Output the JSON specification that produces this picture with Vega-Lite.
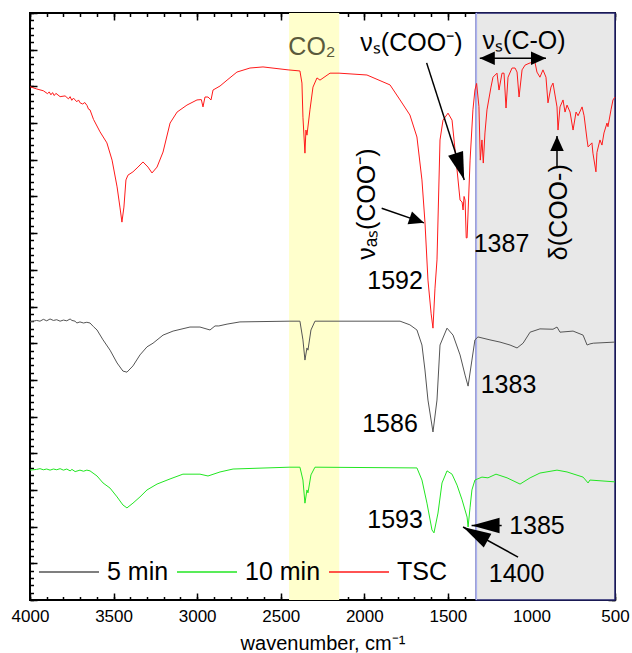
{
"$schema":"https://vega.github.io/schema/vega-lite/v6.json",
"width":585,"height":587,
"autosize":{"type":"none"},
"padding":{"left":30,"top":13,"right":17,"bottom":53},
"config":{"font":"Liberation Sans","view":{"stroke":"#000000","strokeWidth":2},
 "axis":{"domain":false,"grid":false,"tickColor":"#000000","tickWidth":1.5,"zindex":1,"labelColor":"#000000","titleColor":"#000000"}},
"datasets":{
"tsc":[{"w":4000,"t":13.99},{"w":3960,"t":13.93},{"w":3920,"t":13.88},{"w":3895,"t":13.80},{"w":3885,"t":13.85},{"w":3875,"t":13.77},{"w":3865,"t":13.83},{"w":3855,"t":13.75},{"w":3845,"t":13.81},{"w":3820,"t":13.72},{"w":3790,"t":13.74},{"w":3770,"t":13.66},{"w":3760,"t":13.72},{"w":3750,"t":13.62},{"w":3740,"t":13.68},{"w":3720,"t":13.58},{"w":3710,"t":13.63},{"w":3700,"t":13.55},{"w":3685,"t":13.52},{"w":3672,"t":13.56},{"w":3659,"t":13.48},{"w":3650,"t":13.38},{"w":3641,"t":13.36},{"w":3620,"t":13.10},{"w":3581,"t":12.76},{"w":3540,"t":12.46},{"w":3509,"t":11.99},{"w":3479,"t":11.26},{"w":3462,"t":10.71},{"w":3450,"t":10.30},{"w":3438,"t":10.71},{"w":3426,"t":11.45},{"w":3414,"t":11.58},{"w":3384,"t":11.67},{"w":3354,"t":11.80},{"w":3324,"t":11.94},{"w":3294,"t":11.80},{"w":3270,"t":11.64},{"w":3240,"t":11.80},{"w":3204,"t":12.21},{"w":3162,"t":13.00},{"w":3120,"t":13.30},{"w":3061,"t":13.49},{"w":3001,"t":13.63},{"w":2975,"t":13.64},{"w":2965,"t":13.44},{"w":2953,"t":13.71},{"w":2935,"t":13.71},{"w":2917,"t":13.63},{"w":2905,"t":13.90},{"w":2863,"t":14.01},{"w":2821,"t":14.17},{"w":2762,"t":14.39},{"w":2684,"t":14.50},{"w":2606,"t":14.53},{"w":2456,"t":14.45},{"w":2385,"t":14.42},{"w":2373,"t":14.09},{"w":2367,"t":13.16},{"w":2355,"t":12.18},{"w":2349,"t":12.81},{"w":2343,"t":12.67},{"w":2325,"t":13.36},{"w":2307,"t":13.98},{"w":2283,"t":14.23},{"w":2265,"t":14.17},{"w":2205,"t":14.36},{"w":2151,"t":14.36},{"w":1984,"t":14.31},{"w":1846,"t":14.04},{"w":1786,"t":13.63},{"w":1727,"t":13.22},{"w":1685,"t":12.62},{"w":1655,"t":11.45},{"w":1637,"t":10.30},{"w":1619,"t":8.72},{"w":1600,"t":7.80},{"w":1589,"t":7.41},{"w":1577,"t":8.50},{"w":1565,"t":9.27},{"w":1547,"t":12.54},{"w":1529,"t":13.08},{"w":1499,"t":13.27},{"w":1475,"t":13.08},{"w":1445,"t":11.72},{"w":1427,"t":10.90},{"w":1415,"t":10.85},{"w":1409,"t":10.63},{"w":1403,"t":11.00},{"w":1397,"t":10.90},{"w":1390,"t":9.87},{"w":1385,"t":9.87},{"w":1367,"t":11.99},{"w":1350,"t":13.36},{"w":1338,"t":13.90},{"w":1328,"t":14.08},{"w":1314,"t":13.45},{"w":1306,"t":11.99},{"w":1296,"t":12.54},{"w":1288,"t":11.91},{"w":1278,"t":12.73},{"w":1266,"t":13.36},{"w":1242,"t":13.98},{"w":1230,"t":14.25},{"w":1206,"t":14.36},{"w":1194,"t":13.90},{"w":1176,"t":14.36},{"w":1164,"t":14.36},{"w":1152,"t":13.41},{"w":1140,"t":14.25},{"w":1116,"t":14.50},{"w":1098,"t":14.50},{"w":1086,"t":14.39},{"w":1074,"t":13.71},{"w":1056,"t":14.45},{"w":1038,"t":14.58},{"w":1008,"t":14.64},{"w":979,"t":14.66},{"w":967,"t":14.39},{"w":949,"t":14.25},{"w":931,"t":14.45},{"w":913,"t":14.25},{"w":901,"t":13.55},{"w":883,"t":13.98},{"w":871,"t":14.09},{"w":847,"t":13.44},{"w":841,"t":12.81},{"w":829,"t":13.44},{"w":811,"t":13.63},{"w":799,"t":13.30},{"w":787,"t":13.49},{"w":769,"t":13.30},{"w":751,"t":12.81},{"w":733,"t":13.30},{"w":721,"t":13.20},{"w":697,"t":13.44},{"w":685,"t":13.20},{"w":667,"t":12.54},{"w":661,"t":12.35},{"w":638,"t":12.46},{"w":632,"t":12.18},{"w":614,"t":11.67},{"w":608,"t":12.20},{"w":590,"t":12.54},{"w":578,"t":12.40},{"w":566,"t":12.73},{"w":548,"t":13.00},{"w":542,"t":12.90},{"w":524,"t":13.36},{"w":512,"t":13.63},{"w":500,"t":13.71}],
"m5":[{"w":4000,"t":7.58},{"w":3960,"t":7.62},{"w":3940,"t":7.60},{"w":3920,"t":7.65},{"w":3900,"t":7.61},{"w":3880,"t":7.66},{"w":3860,"t":7.62},{"w":3840,"t":7.64},{"w":3820,"t":7.60},{"w":3800,"t":7.63},{"w":3780,"t":7.61},{"w":3760,"t":7.66},{"w":3749,"t":7.62},{"w":3730,"t":7.60},{"w":3720,"t":7.55},{"w":3701,"t":7.58},{"w":3680,"t":7.55},{"w":3660,"t":7.57},{"w":3641,"t":7.55},{"w":3620,"t":7.45},{"w":3599,"t":7.36},{"w":3563,"t":7.09},{"w":3521,"t":6.81},{"w":3479,"t":6.46},{"w":3444,"t":6.24},{"w":3420,"t":6.21},{"w":3384,"t":6.38},{"w":3342,"t":6.68},{"w":3300,"t":6.90},{"w":3264,"t":7.00},{"w":3204,"t":7.22},{"w":3144,"t":7.33},{"w":3043,"t":7.44},{"w":2983,"t":7.44},{"w":2923,"t":7.36},{"w":2893,"t":7.47},{"w":2870,"t":7.47},{"w":2821,"t":7.52},{"w":2744,"t":7.58},{"w":2450,"t":7.60},{"w":2385,"t":7.60},{"w":2367,"t":7.09},{"w":2355,"t":6.54},{"w":2343,"t":6.87},{"w":2337,"t":6.81},{"w":2319,"t":7.36},{"w":2295,"t":7.60},{"w":2283,"t":7.60},{"w":1786,"t":7.60},{"w":1727,"t":7.50},{"w":1685,"t":7.36},{"w":1655,"t":6.95},{"w":1637,"t":6.27},{"w":1619,"t":5.45},{"w":1589,"t":4.58},{"w":1565,"t":5.45},{"w":1547,"t":6.95},{"w":1505,"t":7.41},{"w":1469,"t":7.22},{"w":1427,"t":6.68},{"w":1397,"t":6.13},{"w":1379,"t":5.83},{"w":1356,"t":6.54},{"w":1338,"t":7.09},{"w":1320,"t":7.17},{"w":1248,"t":7.09},{"w":1188,"t":7.03},{"w":1128,"t":6.95},{"w":1086,"t":6.87},{"w":1050,"t":7.00},{"w":1008,"t":7.30},{"w":949,"t":7.39},{"w":871,"t":7.38},{"w":847,"t":7.44},{"w":829,"t":7.30},{"w":751,"t":7.33},{"w":691,"t":7.22},{"w":667,"t":6.95},{"w":650,"t":6.98},{"w":630,"t":7.00},{"w":500,"t":7.03}],
"m10":[{"w":4000,"t":3.54},{"w":3960,"t":3.56},{"w":3940,"t":3.58},{"w":3920,"t":3.55},{"w":3900,"t":3.57},{"w":3880,"t":3.54},{"w":3860,"t":3.57},{"w":3840,"t":3.55},{"w":3820,"t":3.58},{"w":3800,"t":3.54},{"w":3780,"t":3.57},{"w":3760,"t":3.52},{"w":3749,"t":3.56},{"w":3730,"t":3.50},{"w":3701,"t":3.54},{"w":3680,"t":3.51},{"w":3660,"t":3.54},{"w":3641,"t":3.52},{"w":3599,"t":3.38},{"w":3563,"t":3.19},{"w":3521,"t":3.05},{"w":3479,"t":2.81},{"w":3444,"t":2.59},{"w":3420,"t":2.51},{"w":3384,"t":2.64},{"w":3342,"t":2.81},{"w":3300,"t":3.00},{"w":3240,"t":3.16},{"w":3162,"t":3.30},{"w":3085,"t":3.43},{"w":2983,"t":3.43},{"w":2935,"t":3.38},{"w":2863,"t":3.49},{"w":2785,"t":3.57},{"w":2450,"t":3.62},{"w":2385,"t":3.62},{"w":2367,"t":3.27},{"w":2355,"t":2.64},{"w":2343,"t":3.00},{"w":2337,"t":2.92},{"w":2319,"t":3.41},{"w":2295,"t":3.62},{"w":2283,"t":3.62},{"w":1685,"t":3.60},{"w":1655,"t":3.27},{"w":1625,"t":2.64},{"w":1595,"t":1.91},{"w":1583,"t":1.83},{"w":1559,"t":2.37},{"w":1535,"t":3.19},{"w":1505,"t":3.52},{"w":1475,"t":3.43},{"w":1445,"t":3.13},{"w":1415,"t":2.73},{"w":1385,"t":2.26},{"w":1379,"t":1.99},{"w":1367,"t":2.53},{"w":1356,"t":3.00},{"w":1338,"t":3.27},{"w":1296,"t":3.35},{"w":1260,"t":3.33},{"w":1212,"t":3.43},{"w":1146,"t":3.33},{"w":1068,"t":3.16},{"w":1008,"t":3.33},{"w":949,"t":3.46},{"w":847,"t":3.54},{"w":787,"t":3.49},{"w":691,"t":3.35},{"w":661,"t":3.19},{"w":650,"t":3.27},{"w":500,"t":3.22}],
"labels":[{"w":1718,"t":15.19,"txt":"νₛ(COO⁻)"},{"w":1044,"t":15.24,"txt":"νₛ(C-O)"},{"w":1816,"t":8.69,"txt":"1592"},{"w":1179,"t":9.70,"txt":"1387"},{"w":1137,"t":5.85,"txt":"1383"},{"w":1846,"t":4.80,"txt":"1586"},{"w":1816,"t":2.17,"txt":"1593"},{"w":967,"t":2.03,"txt":"1385"},{"w":1089,"t":0.71,"txt":"1400"}],
"vlabels":[{"w":1984,"t":10.79,"txt":"νₐₛ(COO⁻)"},{"w":835,"t":10.57,"txt":"δ(COO-)"}],
"shafts":[{"w1":1627,"t1":14.64,"w2":1402,"t2":11.45},{"w1":1896,"t1":10.68,"w2":1643,"t2":10.28},{"w1":847,"t1":11.77,"w2":847,"t2":12.65},{"w1":1309,"t1":14.77,"w2":913,"t2":14.77},{"w1":1178,"t1":2.03,"w2":1358,"t2":2.03},{"w1":1080,"t1":1.17,"w2":1409,"t2":1.99}],
"heads":[{"w":1402,"t":11.45,"ang":162,"k":"big"},{"w":1643,"t":10.28,"ang":109,"k":"small"},{"w":847,"t":12.65,"ang":0,"k":"small"},{"w":1309,"t":14.77,"ang":270,"k":"small"},{"w":913,"t":14.77,"ang":90,"k":"small"},{"w":1358,"t":2.03,"ang":270,"k":"big"},{"w":1409,"t":1.99,"ang":299,"k":"big"}],
"dummy":[{"w":4000,"t":0}]
},
"layer":[
{"data":{"values":[{"a":2450,"b":2150}]},"mark":{"type":"rect","color":"#ffffcc"},
 "encoding":{"x":{"field":"a","type":"quantitative","scale":{"domain":[500,4000],"reverse":true,"nice":false,"zero":false},"axis":null},"x2":{"field":"b"},
 "y":{"datum":0,"type":"quantitative","scale":{"domain":[0,16],"nice":false,"zero":false},"axis":null},"y2":{"datum":16}}},
{"data":{"values":[{"a":1330,"b":500}]},"mark":{"type":"rect","fill":"#e8e8e8","stroke":"#22226e","strokeWidth":1.5},
 "encoding":{"x":{"field":"a","type":"quantitative","scale":{"domain":[500,4000],"reverse":true,"nice":false,"zero":false},"axis":null},"x2":{"field":"b"},
 "y":{"datum":0,"type":"quantitative","scale":{"domain":[0,16],"nice":false,"zero":false},"axis":null},"y2":{"datum":16}}},
{"data":{"values":[{"a":1330}]},"mark":{"type":"rule","color":"#aab0f0","strokeWidth":1.5},
 "encoding":{"x":{"field":"a","type":"quantitative","scale":{"domain":[500,4000],"reverse":true,"nice":false,"zero":false},"axis":null},
 "y":{"datum":0,"type":"quantitative","scale":{"domain":[0,16],"nice":false,"zero":false},"axis":null},"y2":{"datum":16}}},
{"data":{"name":"m5"},"mark":{"type":"line","strokeWidth":1},
 "encoding":{"x":{"field":"w","type":"quantitative","scale":{"domain":[500,4000],"reverse":true,"nice":false,"zero":false},"axis":null},
 "y":{"field":"t","type":"quantitative","scale":{"domain":[0,16],"nice":false,"zero":false},"axis":null},
 "color":{"datum":"5 min","type":"nominal","scale":{"domain":["5 min","10 min","TSC"],"range":["#555555","#22e622","#ff1a1a"]},
  "legend":{"orient":"none","legendX":8,"legendY":528,"direction":"horizontal","symbolType":"stroke","symbolSize":3600,"symbolStrokeWidth":1.5,"labelFontSize":25,"labelOffset":7,"columnPadding":5,"title":null,"padding":0,"labelColor":"#000000"}}}},
{"data":{"name":"m10"},"mark":{"type":"line","strokeWidth":1},
 "encoding":{"x":{"field":"w","type":"quantitative","scale":{"domain":[500,4000],"reverse":true,"nice":false,"zero":false},"axis":null},
 "y":{"field":"t","type":"quantitative","scale":{"domain":[0,16],"nice":false,"zero":false},"axis":null},
 "color":{"datum":"10 min","type":"nominal","scale":{"domain":["5 min","10 min","TSC"],"range":["#555555","#22e622","#ff1a1a"]}}}},
{"data":{"name":"tsc"},"mark":{"type":"line","strokeWidth":1},
 "encoding":{"x":{"field":"w","type":"quantitative","scale":{"domain":[500,4000],"reverse":true,"nice":false,"zero":false},"axis":null},
 "y":{"field":"t","type":"quantitative","scale":{"domain":[0,16],"nice":false,"zero":false},"axis":null},
 "color":{"datum":"TSC","type":"nominal","scale":{"domain":["5 min","10 min","TSC"],"range":["#555555","#22e622","#ff1a1a"]}}}},
{"data":{"values":[{"w":2313,"t":15.07,"txt":"CO₂"}]},"mark":{"type":"text","fontSize":25,"align":"center","baseline":"middle","color":"#5a5a3c"},
 "encoding":{"x":{"field":"w","type":"quantitative","axis":null},"y":{"field":"t","type":"quantitative","axis":null},"text":{"field":"txt"}}},
{"data":{"name":"labels"},"mark":{"type":"text","fontSize":25,"align":"center","baseline":"middle","color":"#000000"},
 "encoding":{"x":{"field":"w","type":"quantitative","axis":null},"y":{"field":"t","type":"quantitative","axis":null},"text":{"field":"txt"}}},
{"data":{"name":"vlabels"},"mark":{"type":"text","fontSize":25,"align":"center","baseline":"middle","angle":270,"color":"#000000"},
 "encoding":{"x":{"field":"w","type":"quantitative","axis":null},"y":{"field":"t","type":"quantitative","axis":null},"text":{"field":"txt"}}},
{"data":{"name":"shafts"},"mark":{"type":"rule","color":"#000000","strokeWidth":1.5},
 "encoding":{"x":{"field":"w1","type":"quantitative","axis":null},"y":{"field":"t1","type":"quantitative","axis":null},"x2":{"field":"w2"},"y2":{"field":"t2"}}},
{"data":{"name":"heads"},"transform":[{"filter":"datum.k == 'big'"}],"mark":{"type":"point","filled":true,"color":"#000000","opacity":1,"strokeWidth":0,"size":3136,"shape":"M0,0L-0.28,1L0.28,1Z"},
 "encoding":{"x":{"field":"w","type":"quantitative","axis":null},"y":{"field":"t","type":"quantitative","axis":null},"angle":{"field":"ang","type":"quantitative","scale":null}}},
{"data":{"name":"heads"},"transform":[{"filter":"datum.k == 'small'"}],"mark":{"type":"point","filled":true,"color":"#000000","opacity":1,"strokeWidth":0,"size":900,"shape":"M0,0L-0.45,1L0.45,1Z"},
 "encoding":{"x":{"field":"w","type":"quantitative","axis":null},"y":{"field":"t","type":"quantitative","axis":null},"angle":{"field":"ang","type":"quantitative","scale":null}}},
{"data":{"name":"dummy"},"mark":{"type":"point","opacity":0},
 "encoding":{"x":{"field":"w","type":"quantitative","axis":{"orient":"bottom","values":[4000,3500,3000,2500,2000,1500,1000,500],"format":"d","tickSize":-7,"labelFontSize":17,"labelPadding":15,"labelFlush":false,"title":"wavenumber, cm⁻¹","titleFontSize":20,"titleFontWeight":"normal","titlePadding":9}},
 "y":{"field":"t","type":"quantitative","axis":{"orient":"left","values":[0,1,2,3,4,5,6,7,8,9,10,11,12,13,14,15,16],"tickSize":-7,"labels":false,"title":null}}}},
{"data":{"name":"dummy"},"mark":{"type":"point","opacity":0},
 "encoding":{"x":{"field":"w","type":"quantitative","axis":{"orient":"bottom","values":[500,600,700,800,900,1000,1100,1200,1300,1400,1500,1600,1700,1800,1900,2000,2100,2200,2300,2400,2500,2600,2700,2800,2900,3000,3100,3200,3300,3400,3500,3600,3700,3800,3900,4000],"tickSize":-3.5,"labels":false,"title":null}},
 "y":{"field":"t","type":"quantitative","axis":{"orient":"left","values":[0,0.2,0.4,0.6,0.8,1,1.2,1.4,1.6,1.8,2,2.2,2.4,2.6,2.8,3,3.2,3.4,3.6,3.8,4,4.2,4.4,4.6,4.8,5,5.2,5.4,5.6,5.8,6,6.2,6.4,6.6,6.8,7,7.2,7.4,7.6,7.8,8,8.2,8.4,8.6,8.8,9,9.2,9.4,9.6,9.8,10,10.2,10.4,10.6,10.8,11,11.2,11.4,11.6,11.8,12,12.2,12.4,12.6,12.8,13,13.2,13.4,13.6,13.8,14,14.2,14.4,14.6,14.8,15,15.2,15.4,15.6,15.8,16],"tickSize":-3.5,"labels":false,"title":null}}}},
{"data":{"name":"dummy"},"mark":{"type":"point","opacity":0},
 "encoding":{"x":{"field":"w","type":"quantitative","axis":{"orient":"top","values":[4000,3500,3000,2500,2000,1500,1000,500],"tickSize":-7,"labels":false,"title":null}},
 "y":{"field":"t","type":"quantitative","axis":{"orient":"right","values":[0,1,2,3,4,5,6,7,8,9,10,11,12,13,14,15,16],"tickSize":-7,"labels":false,"title":null}}}},
{"data":{"name":"dummy"},"mark":{"type":"point","opacity":0},
 "encoding":{"x":{"field":"w","type":"quantitative","axis":{"orient":"top","values":[500,600,700,800,900,1000,1100,1200,1300,1400,1500,1600,1700,1800,1900,2000,2100,2200,2300,2400,2500,2600,2700,2800,2900,3000,3100,3200,3300,3400,3500,3600,3700,3800,3900,4000],"tickSize":-3.5,"labels":false,"title":null}},
 "y":{"field":"t","type":"quantitative","axis":{"orient":"right","values":[0,0.2,0.4,0.6,0.8,1,1.2,1.4,1.6,1.8,2,2.2,2.4,2.6,2.8,3,3.2,3.4,3.6,3.8,4,4.2,4.4,4.6,4.8,5,5.2,5.4,5.6,5.8,6,6.2,6.4,6.6,6.8,7,7.2,7.4,7.6,7.8,8,8.2,8.4,8.6,8.8,9,9.2,9.4,9.6,9.8,10,10.2,10.4,10.6,10.8,11,11.2,11.4,11.6,11.8,12,12.2,12.4,12.6,12.8,13,13.2,13.4,13.6,13.8,14,14.2,14.4,14.6,14.8,15,15.2,15.4,15.6,15.8,16],"tickSize":-3.5,"labels":false,"title":null}}}}
],
"resolve":{"axis":{"x":"independent","y":"independent"}}
}
